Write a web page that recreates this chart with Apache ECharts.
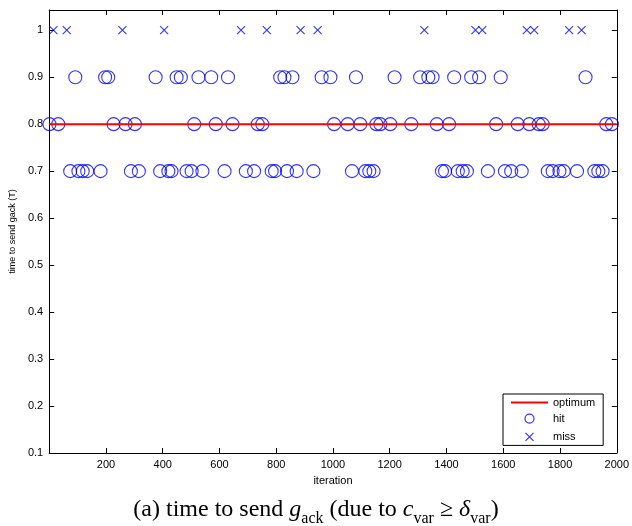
<!DOCTYPE html>
<html><head><meta charset="utf-8">
<script src="https://cdn.jsdelivr.net/npm/echarts@6/dist/echarts.min.js"></script>
<style>html,body{margin:0;padding:0;background:#fff}#c{width:632px;height:526px}</style>
</head><body><div id="c"></div>
<script>
// Data
const optimum = 0.8;
const xTicks = [200, 400, 600, 800, 1000, 1200, 1400, 1600, 1800, 2000];
const yTicks = [0.1, 0.2, 0.3, 0.4, 0.5, 0.6, 0.7, 0.8, 0.9, 1];
const hits07 = [74, 103, 118, 134, 181, 288, 316, 391, 420, 431, 484, 502, 540, 618, 693, 722, 784, 796, 838, 872, 931, 1067, 1114, 1128, 1143, 1384, 1395, 1440, 1457, 1472, 1546, 1606, 1628, 1665, 1757, 1774, 1798, 1813, 1860, 1921, 1935, 1950];
const hits08 = [1, 32, 227, 269, 302, 511, 587, 646, 735, 751, 1004, 1052, 1096, 1153, 1167, 1202, 1276, 1366, 1409, 1575, 1651, 1692, 1725, 1739, 1963, 1983];
const hits09 = [92, 197, 208, 375, 449, 464, 526, 571, 630, 814, 829, 857, 960, 991, 1081, 1217, 1307, 1336, 1351, 1427, 1487, 1515, 1591, 1890];
const misses = [15, 62, 258, 405, 676, 767, 886, 946, 1322, 1502, 1526, 1683, 1709, 1832, 1876];
const missValue = 1;

const hitData = [].concat(
  hits07.map(x => [x, 0.7]),
  hits08.map(x => [x, 0.8]),
  hits09.map(x => [x, 0.9])
);
const missData = misses.map(x => [x, missValue]);

const BLUE = '#0000ff';
const font = 'Liberation Sans, Arial, sans-serif';
const chart = echarts.init(document.getElementById('c'), null, {renderer: 'canvas'});
const yFmt = v => {
  const r = Math.round(v * 10) / 10;
  if (Math.abs(r - v) > 1e-6) return '';
  return r === 1 ? '1' : r.toFixed(1);
};
const axisCommon = {
  axisLine: {show: true, onZero: false, lineStyle: {color: '#000', width: 1}},
  axisTick: {show: true, inside: true, length: 5, lineStyle: {color: '#000'}},
  splitLine: {show: false}
};
const iconStyle = {color: 'rgba(0,0,0,0)', borderColor: BLUE, borderWidth: 1.2};
chart.setOption({
  animation: false,
  backgroundColor: '#fff',
  grid: {left: 49, right: 14, top: 10, bottom: 73},
  xAxis: [
    Object.assign({}, axisCommon, {
      type: 'value', min: 0, max: 2000, interval: 200, position: 'bottom',
      name: 'iteration', nameLocation: 'middle', nameGap: 22,
      nameTextStyle: {fontFamily: font, fontSize: 11, color: '#000'},
      axisLabel: {fontFamily: font, fontSize: 11, color: '#000', margin: 6,
        formatter: v => xTicks.indexOf(v) >= 0 ? String(v) : ''}
    }),
    Object.assign({}, axisCommon, {
      type: 'value', min: 0, max: 2000, interval: 200, position: 'top',
      axisLabel: {show: false}
    })
  ],
  yAxis: [
    Object.assign({}, axisCommon, {
      type: 'value', min: 0.1, max: 1.043, interval: 0.1, position: 'left',
      name: 'time to send gack (T)', nameLocation: 'middle', nameGap: 30, nameRotate: 90,
      nameTextStyle: {fontFamily: font, fontSize: 9, color: '#000'},
      axisLabel: {fontFamily: font, fontSize: 11, color: '#000', margin: 6, formatter: yFmt,
        showMaxLabel: false}
    }),
    Object.assign({}, axisCommon, {
      type: 'value', min: 0.1, max: 1.043, interval: 0.1, position: 'right',
      axisLabel: {show: false}
    })
  ],
  legend: {
    left: 503, top: 394, orient: 'vertical',
    padding: [3, 8, 1, 8], itemGap: 3, itemWidth: 37, itemHeight: 14,
    backgroundColor: '#fff', borderColor: '#000', borderWidth: 1, borderRadius: 0,
    textStyle: {fontFamily: font, fontSize: 11, color: '#000'},
    data: [
      {name: 'optimum', icon: 'path://M0,0L37,0L37,2L0,2Z', itemStyle: {color: '#ff0000', borderWidth: 0}},
      {name: 'hit', icon: 'path://M-2.5,-2.5M11.5,11.5M0,4.5A4.5,4.5 0 1,0 9,4.5A4.5,4.5 0 1,0 0,4.5Z', itemStyle: iconStyle},
      {name: 'miss', icon: 'path://M-3,-3M11,11M0,0L8,8M8,0L0,8', itemStyle: iconStyle}
    ]
  },
  series: [
    {
      name: 'hit', type: 'scatter', data: hitData, symbol: 'circle', symbolSize: 13,
      itemStyle: {color: 'rgba(0,0,0,0)', borderColor: BLUE, borderWidth: 1.1}, z: 3
    },
    {
      name: 'miss', type: 'scatter', data: missData,
      symbol: 'path://M0,0L10,10M10,0L0,10', symbolSize: 8,
      itemStyle: {color: 'rgba(0,0,0,0)', borderColor: BLUE, borderWidth: 1.1}, z: 3
    },
    {
      name: 'optimum', type: 'line', data: [[0, optimum], [2000, optimum]],
      symbol: 'none', showSymbol: false, lineStyle: {color: '#ff0000', width: 2},
      itemStyle: {color: '#ff0000'}, z: 4
    }
  ],
  graphic: [{
    type: 'text', left: 'center', top: 498,
    style: {
      text: '{n|(a) time to send }{i|g}{s|ack}{n| (due to }{i|c}{s|var}{n| ≥ }{i|δ}{s|var}{n|)}',
      fill: '#000',
      rich: {
        n: {fontFamily: 'Liberation Serif, serif', fontSize: 24, lineHeight: 28, verticalAlign: 'top'},
        i: {fontFamily: 'Liberation Serif, serif', fontStyle: 'italic', fontSize: 24, lineHeight: 28, verticalAlign: 'top'},
        s: {fontFamily: 'Liberation Serif, serif', fontSize: 16, lineHeight: 16, padding: [13, 0, 0, 0], verticalAlign: 'top'}
      }
    }
  }]
});
</script></body></html>
